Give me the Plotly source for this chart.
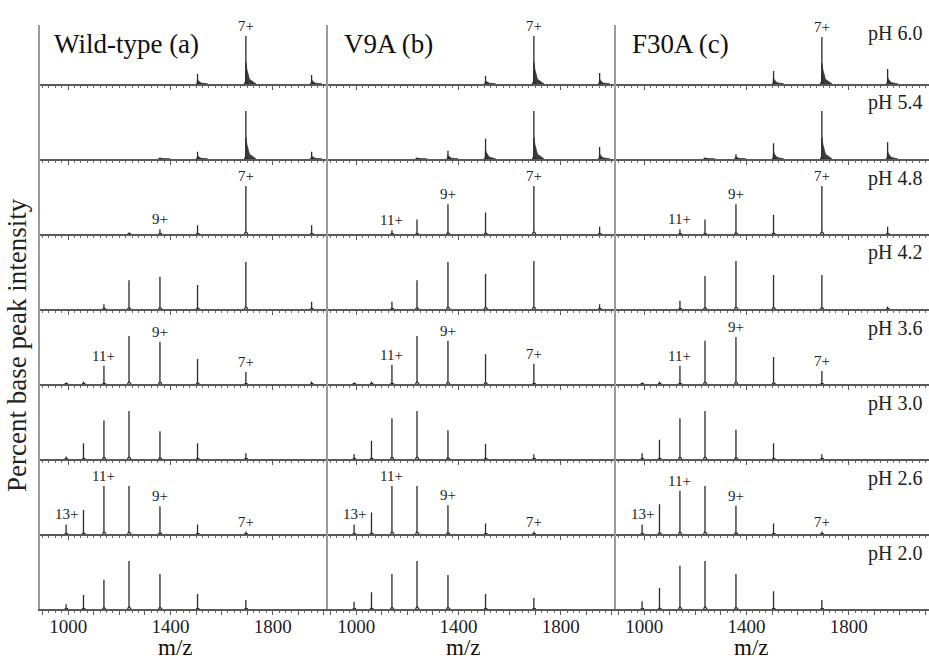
import plotly.graph_objects as go

W, H = 929, 660

# charge states and the m/z at which each one appears
CHARGES = [13, 12, 11, 10, 9, 8, 7, 6]
PEAK_MZ = [992, 1060, 1140, 1238, 1359, 1506, 1695, 1952]

PH_LEVELS = ["pH 6.0", "pH 5.4", "pH 4.8", "pH 4.2", "pH 3.6", "pH 3.0", "pH 2.6", "pH 2.0"]
PROTEINS = ["Wild-type (a)", "V9A (b)", "F30A (c)"]
TICK_VALUES = [1000, 1400, 1800]

# percent base peak intensity, one row per pH, columns follow CHARGES
WILD_TYPE = [
    [0, 0, 0, 0, 0, 21, 100, 19],
    [0, 0, 0, 0, 3, 15, 100, 15],
    [0, 0, 0, 3, 10, 18, 100, 18],
    [0, 0, 10, 60, 67, 50, 98, 15],
    [3, 5, 38, 100, 88, 52, 25, 5],
    [5, 33, 80, 100, 58, 33, 12, 0],
    [20, 50, 100, 100, 58, 20, 5, 0],
    [10, 29, 61, 100, 73, 31, 19, 0],
]
V9A = [
    [0, 0, 0, 0, 0, 17, 100, 23],
    [0, 0, 0, 3, 17, 42, 100, 25],
    [0, 0, 8, 30, 62, 45, 100, 15],
    [0, 0, 15, 60, 98, 73, 100, 10],
    [3, 5, 40, 100, 90, 62, 42, 0],
    [10, 38, 85, 100, 60, 32, 10, 0],
    [20, 45, 100, 100, 60, 22, 5, 0],
    [15, 35, 73, 100, 71, 31, 23, 0],
]
F30A = [
    [0, 0, 0, 0, 0, 27, 98, 31],
    [0, 0, 0, 3, 10, 33, 100, 35],
    [0, 0, 10, 30, 62, 40, 100, 15],
    [0, 0, 17, 69, 100, 71, 71, 5],
    [3, 5, 38, 90, 98, 56, 27, 0],
    [12, 40, 85, 100, 61, 33, 10, 0],
    [20, 62, 90, 100, 59, 22, 5, 0],
    [16, 44, 90, 100, 73, 37, 19, 0],
]
SPECTRA = [WILD_TYPE, V9A, F30A]

# charge states annotated in each pH row, per protein
LABELED = {
    0: [[7], [7], [7]],
    2: [[9, 7], [11, 9, 7], [11, 9, 7]],
    4: [[11, 9, 7], [11, 9, 7], [11, 9, 7]],
    6: [[13, 11, 9, 7], [13, 11, 9, 7], [13, 11, 9, 7]],
}

# ---- layout geometry (pixels) ----
COL_LEFT = [40, 328, 616]
COL_RIGHT = [328, 616, W]
PX_PER_MZ = 0.25575
MZ_START = 890
ROW_TOP0 = 25
BASE0 = 84
ROW_H = 75
FULL_SCALE_PX = 48  # height of a 100 % peak

SERIF = "Liberation Serif"
INK = "#2b2b2b"

fig = go.Figure()
layout = {}
annotations = []


def px_x(p):
    return p / W


def px_y(p):
    return 1 - p / H


for r in range(8):
    base = BASE0 + r * ROW_H
    top = ROW_TOP0 if r == 0 else base - ROW_H
    ymax = (base - top) / FULL_SCALE_PX * 100
    for c in range(3):
        k = r * 3 + c + 1
        xa = "xaxis" if k == 1 else f"xaxis{k}"
        ya = "yaxis" if k == 1 else f"yaxis{k}"
        xr = "x" if k == 1 else f"x{k}"
        yr = "y" if k == 1 else f"y{k}"
        mz_end = MZ_START + (COL_RIGHT[c] - COL_LEFT[c]) / PX_PER_MZ
        bottom_row = r == 7
        layout[xa] = dict(
            domain=[px_x(COL_LEFT[c]), px_x(COL_RIGHT[c])],
            range=[MZ_START, mz_end],
            anchor=yr,
            showline=True, linecolor="#5a5a5a", linewidth=1.8,
            showgrid=False, zeroline=False,
            ticks="outside", ticklen=4, tickwidth=1, tickcolor="#5a5a5a",
            tickmode="array",
            tickvals=list(range(900, 2200, 100)),
            ticktext=[str(v) if v in TICK_VALUES else "" for v in range(900, 2200, 100)],
            showticklabels=bottom_row,
            ticklabelstandoff=-5,
            tickfont=dict(family=SERIF, size=19, color="#222"),
            minor=dict(ticks="outside", ticklen=2.5, tickwidth=1, tickcolor="#6a6a6a",
                       tickmode="linear", tick0=900, dtick=25),
        )
        layout[ya] = dict(
            domain=[px_y(base), px_y(top)],
            range=[0, ymax],
            anchor=xr,
            showline=True, linecolor="#9a9a9a", linewidth=1.5,
            showgrid=False, zeroline=False, showticklabels=False, ticks="",
        )

        heights = SPECTRA[c][r]
        xs, ys = [], []
        fx, fy = [], []
        for mz, h in zip(PEAK_MZ, heights):
            if h <= 0:
                continue
            skirt = max(h * 0.05, 1.2)
            xs += [mz - 6, mz, mz, mz, mz + 8, None]
            ys += [0, skirt, h, skirt, 0, None]
            if r < 2:
                # broadened, adduct-rich peaks at high pH
                fx += [mz - 2, mz, mz + 4, mz + 14, mz + 40, mz - 2, None]
                fy += [0, h * 0.45, h * 0.3, h * 0.1, 0, 0, None]
        if fx:
            fig.add_trace(go.Scatter(
                x=fx, y=fy, xaxis=xr, yaxis=yr, mode="lines", fill="toself",
                fillcolor="#3a3a3a", line=dict(color="#3a3a3a", width=0.8),
                hoverinfo="skip", showlegend=False, cliponaxis=False,
            ))
        fig.add_trace(go.Scatter(
            x=xs, y=ys, xaxis=xr, yaxis=yr, mode="lines",
            line=dict(color=INK, width=1.3), hoverinfo="skip",
            showlegend=False, cliponaxis=False,
        ))

        if r in LABELED:
            for z in LABELED[r][c]:
                i = CHARGES.index(z)
                annotations.append(dict(
                    x=PEAK_MZ[i], y=heights[i], xref=xr, yref=yr,
                    text=f"{z}+", showarrow=False, yanchor="bottom", yshift=0,
                    font=dict(family=SERIF, size=15, color="#222"),
                ))

    # pH label at the top right of each row band
    annotations.append(dict(
        x=px_x(924), y=px_y((33 if r == 0 else top + 19)), xref="paper", yref="paper",
        text=PH_LEVELS[r], showarrow=False, xanchor="right", yanchor="middle",
        font=dict(family=SERIF, size=20, color="#222"),
    ))

# protein titles
for c, (name, left) in enumerate(zip(PROTEINS, [52, 342, 630])):
    annotations.append(dict(
        x=px_x(left), y=px_y(44), xref="paper", yref="paper", text=name,
        showarrow=False, xanchor="left", yanchor="middle",
        font=dict(family=SERIF, size=27, color="#111"),
    ))

# m/z axis titles under each column
for c in range(3):
    k = 21 + c + 1
    annotations.append(dict(
        x=1421, y=px_y(647), xref=f"x{k}", yref="paper", text="m/z",
        showarrow=False, xanchor="center", yanchor="middle",
        font=dict(family=SERIF, size=23, color="#111"),
    ))

annotations.append(dict(
    x=px_x(17), y=px_y(345), xref="paper", yref="paper",
    text="Percent base peak intensity", textangle=-90, showarrow=False,
    xanchor="center", yanchor="middle",
    font=dict(family=SERIF, size=27, color="#222"),
))

fig.update_layout(
    width=W, height=H,
    margin=dict(l=0, r=0, t=0, b=0),
    paper_bgcolor="white", plot_bgcolor="rgba(0,0,0,0)",
    annotations=annotations,
    showlegend=False,
    **layout,
)

fig.write_html("out.html")
